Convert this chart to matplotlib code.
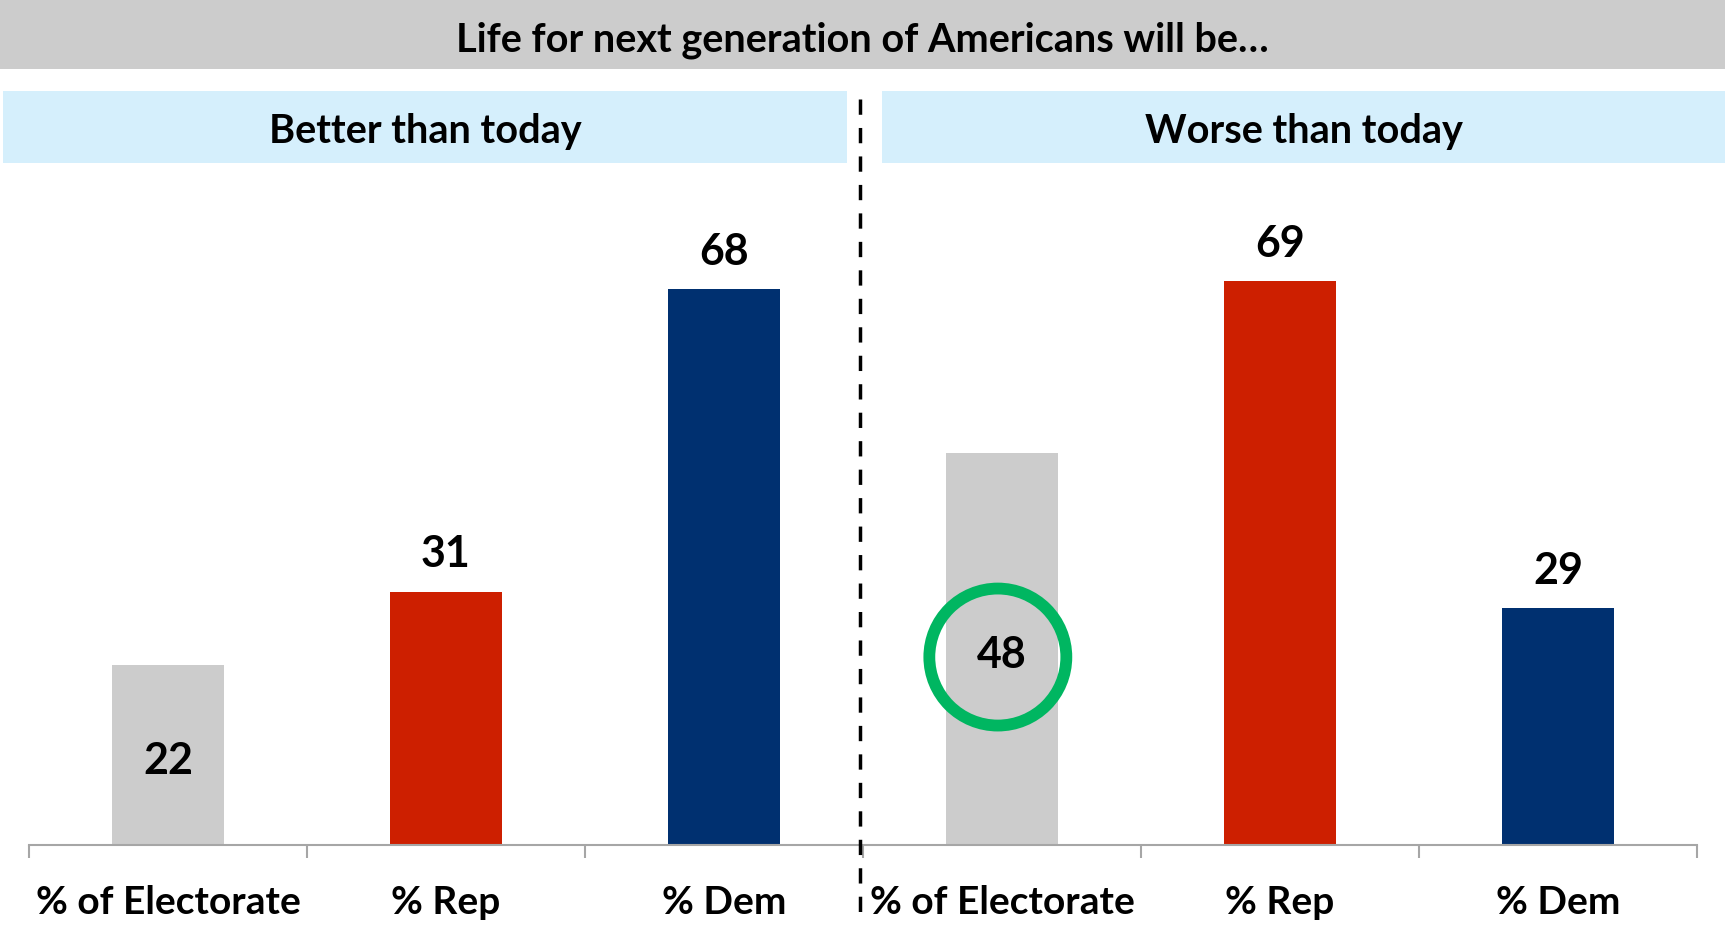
import matplotlib.pyplot as plt
import matplotlib.patches as patches
import matplotlib.transforms as transforms
from matplotlib.lines import Line2D

plt.rcParams['font.family'] = ['Lato', 'DejaVu Sans']

title = 'Life for next generation of Americans will be\u2026'
panels = ['Better than today', 'Worse than today']
groups = ['% of Electorate', '% Rep', '% Dem']
better = [22, 31, 68]
worse = [48, 69, 29]
colors = ['#cccccc', '#cd1f00', '#003070']

values = better + worse
labels = groups + groups
bar_colors = colors + colors

W, H = 1725, 926
fig = plt.figure(figsize=(W / 100, H / 100), dpi=100)

# title bar
fig.patches.append(patches.Rectangle((0, 1 - 69 / H), 1, 69 / H, transform=fig.transFigure,
                                     facecolor='#cccccc', edgecolor='none', zorder=0))
fig.text(0.5, 1 - 40 / H, title, ha='center', va='center', fontsize=28.5, fontweight='bold')

# panel headers
for x0, x1, name in [(3, 847, panels[0]), (882, 1725, panels[1])]:
    fig.patches.append(patches.Rectangle((x0 / W, 1 - 163 / H), (x1 - x0) / W, 72 / H,
                                         transform=fig.transFigure, facecolor='#d5effc',
                                         edgecolor='none', zorder=0))
    fig.text((x0 + x1) / 2 / W, 1 - 131 / H, name, ha='center', va='center',
             fontsize=28.5, fontweight='bold')

# bars
ax = fig.add_axes([29 / W, 81 / H, (1697 - 29) / W, (845 - 170) / H])
ax.patch.set_alpha(0)
x = list(range(len(values)))
bars = ax.bar(x, values, width=0.4, color=bar_colors, zorder=2)
ax.set_xlim(-0.5, 5.5)
ax.set_ylim(0, 82.6)

for i, (b, v) in enumerate(zip(bars, values)):
    if i % 3 == 0:
        ax.text(b.get_x() + b.get_width() / 2, v / 2 - 0.7, str(v), ha='center', va='center',
                fontsize=31, fontweight='bold', zorder=4)
    else:
        ax.annotate(str(v), (b.get_x() + b.get_width() / 2, v), xytext=(0, 27),
                    textcoords='offset points', ha='center', va='center',
                    fontsize=31, fontweight='bold')

for s in ['top', 'right', 'left']:
    ax.spines[s].set_visible(False)
ax.spines['bottom'].set_color('#a6a6a6')
ax.spines['bottom'].set_linewidth(1.5)
ax.set_yticks([])
ax.set_xticks([i - 0.5 for i in range(7)])
ax.set_xticklabels([])
ax.tick_params(axis='x', which='major', length=9.5, width=1.5, color='#a6a6a6')
ax.set_xticks(x, minor=True)
ax.set_xticklabels(labels, minor=True, fontsize=28, fontweight='bold')
ax.tick_params(axis='x', which='minor', length=0, pad=29)

# highlight circle on "worse" electorate value
circ_tr = fig.dpi_scale_trans + transforms.ScaledTranslation(2.985, 23, ax.transData)
ax.add_patch(patches.Circle((0, 0), 0.685, transform=circ_tr, fill=False,
                            edgecolor='#00b661', linewidth=8.5, zorder=3, clip_on=False))

# dashed divider
fig.lines.append(Line2D([860 / W, 860 / W], [1 - 99 / H, 1 - 924 / H], transform=fig.transFigure,
                        color='black', linewidth=2.5, linestyle=(0, (4.4, 3.8))))

fig.savefig('out.png', dpi=100)
